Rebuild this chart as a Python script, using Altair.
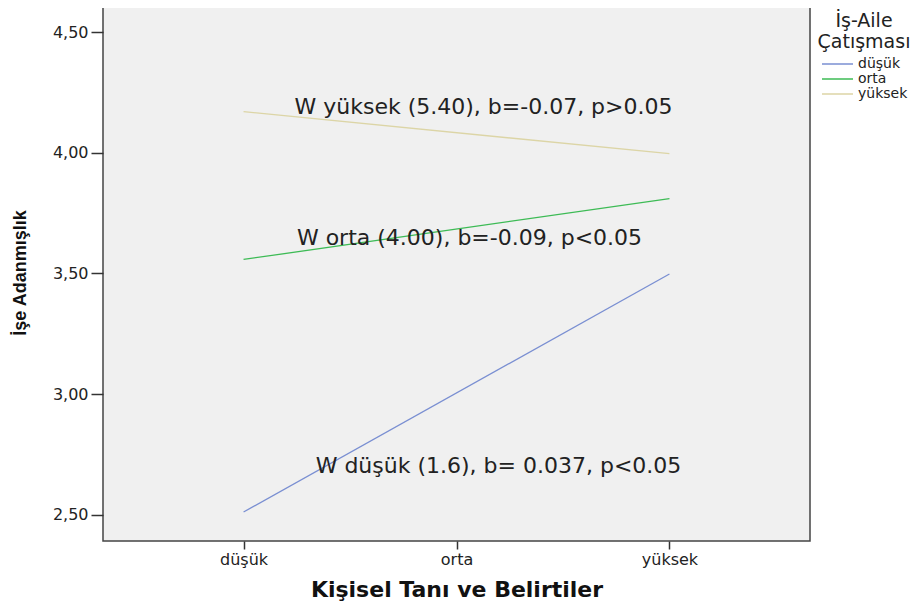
import altair as alt
import pandas as pd

categories = ["düşük", "orta", "yüksek"]
series_names = ["düşük", "orta", "yüksek"]
series_dusuk = [2.512, 3.498]
series_orta = [3.558, 3.810]
series_yuksek = [4.170, 3.996]
end_categories = ["düşük", "yüksek"]
colors = ["#7a8fd2", "#3dbb55", "#dcd5a6"]

annot_labels = [
    "W yüksek (5.40), b=-0.07, p>0.05",
    "W orta (4.00), b=-0.09, p<0.05",
    "W düşük (1.6), b= 0.037, p<0.05",
]
annot_values = [4.189, 3.646, 2.703]

rows = []
for name, vals in zip(series_names, [series_dusuk, series_orta, series_yuksek]):
    for c, v in zip(end_categories, vals):
        rows.append({"kisisel": c, "deger": v, "grup": name})
df = pd.DataFrame(rows)

xscale = alt.Scale(type="point", domain=categories, padding=0.66)
yscale = alt.Scale(domain=[2.392, 4.616], nice=False, zero=False)

lines = alt.Chart(df).mark_line(strokeWidth=1.3).encode(
    x=alt.X("kisisel:N", scale=xscale, sort=categories,
            axis=alt.Axis(title="Kişisel Tanı ve Belirtiler", labelAngle=0,
                          labelFont="DejaVu Sans", labelFontSize=16,
                          labelColor="#222222", tickColor="#333333", tickSize=8,
                          tickWidth=1.5, domain=False, labelPadding=2,
                          titleFont="DejaVu Sans", titleFontSize=22,
                          titleFontWeight="bold", titleColor="#111111",
                          titlePadding=12)),
    y=alt.Y("deger:Q", scale=yscale,
            axis=alt.Axis(title="İşe Adanmışlık", values=[2.5, 3.0, 3.5, 4.0, 4.5],
                          labelExpr="replace(format(datum.value, '.2f'), '.', ',')",
                          labelFont="DejaVu Sans", labelFontSize=16,
                          labelColor="#222222", tickColor="#333333", tickSize=12,
                          tickWidth=1.5, domain=False, grid=False, labelPadding=3,
                          titleFont="Liberation Sans", titleFontSize=18,
                          titleFontWeight="bold", titleColor="#111111",
                          titlePadding=23)),
    color=alt.Color("grup:N", scale=alt.Scale(domain=series_names, range=colors),
                    sort=series_names,
                    legend=alt.Legend(title=["İş-Aile", "Çatışması"],
                                      orient="none", legendX=715, legendY=8,
                                      titleFont="DejaVu Sans", titleFontSize=19,
                                      titleFontWeight="normal", titleColor="#222222",
                                      titleAlign="center", titleAnchor="middle",
                                      titleLineHeight=21,
                                      labelFont="DejaVu Sans", labelFontSize=14,
                                      labelColor="#222222", symbolType="stroke",
                                      symbolSize=961, symbolStrokeWidth=1.5,
                                      clipHeight=14, rowPadding=1, padding=0,
                                      labelOffset=4, titlePadding=5)),
)

adf = pd.DataFrame({"label": annot_labels, "deger": annot_values,
                    "kisisel": ["orta", "orta", "orta"]})
dxs = [27, 13, 42]
texts = []
for i in range(3):
    texts.append(
        alt.Chart(adf.iloc[[i]]).mark_text(
            font="DejaVu Sans", fontSize=22, color="#222222", align="center",
            baseline="middle", dx=dxs[i]
        ).encode(x=alt.X("kisisel:N", scale=xscale, sort=categories),
                 y=alt.Y("deger:Q", scale=yscale), text="label:N")
    )

chart = alt.layer(lines, *texts).properties(
    width=707, height=537,
    autosize=alt.AutoSizeParams(type="none"),
    padding={"top": -4, "left": 95, "right": 105, "bottom": 60},
).configure_view(fill="#f0f0f0", stroke="#444444", strokeWidth=1.5)

chart.save("out.html", embed_options={"renderer": "svg", "actions": False})
